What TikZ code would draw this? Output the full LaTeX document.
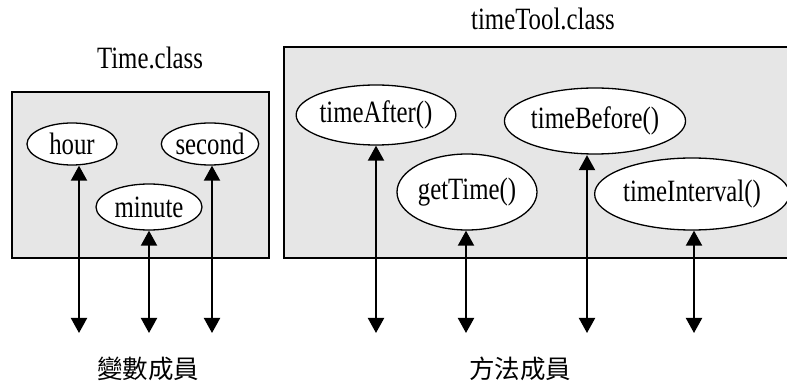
\documentclass[tikz,border=0pt]{standalone}
\usepackage{fontspec}
\setmainfont[FakeStretch=0.8]{Liberation Serif}
\newfontfamily\cjk{Noto Sans CJK TC}
\usetikzlibrary{shapes.geometric,arrows.meta}
\definecolor{panelgray}{RGB}{230,230,230}
\tikzset{
  panel/.style={fill=panelgray, draw=black, line width=1.6pt},
  member/.style={ellipse, draw=black, fill=white, line width=1.3pt, inner sep=0pt,
    font=\fontsize{31}{36}\selectfont},
  title/.style={anchor=base, inner sep=0pt, font=\fontsize{31}{36}\selectfont},
  caption/.style={inner sep=0pt, font=\cjk\fontsize{25.5}{30}\selectfont},
  link/.style={line width=2pt, {Triangle[length=15pt,width=16pt]}-{Triangle[length=15pt,width=16pt]}}
}
\begin{document}
\begin{tikzpicture}[x=1pt,y=-1pt]
\useasboundingbox (0,0) rectangle (787,387);

% class panels
\draw[panel] (12,92) rectangle (269,258);
\fill[panelgray] (284,47) rectangle (787,258);
\draw[line width=1.6pt] (788,47) -- (284,47) -- (284,258) -- (788,258);

% panel titles
\node[title] (tTime) at (150,69) {Time.class};
\node[title] (tTool) at (543,30) {timeTool.class};

% variable members
\node[member, minimum width=90pt, minimum height=42pt] (hour) at (72,144) {hour};
\node[member, minimum width=90pt, minimum height=42pt] (second) at (210,144) {second};
\node[member, minimum width=106pt, minimum height=46pt] (minute) at (149,207) {minute};

% method members
\node[member, minimum width=150pt, minimum height=60pt] (after) at (376,115) {timeAfter()};
\node[member, minimum width=140pt, minimum height=76pt] (gettime) at (467,192) {getTime()};
\node[member, minimum width=168pt, minimum height=66pt] (before) at (595,121) {timeBefore()};
\node[member, minimum width=180pt, minimum height=72pt] (interval) at (692,194) {timeInterval()};

% free ends of the access arrows
\coordinate (eHour) at (79,333);
\coordinate (eMinute) at (149,333);
\coordinate (eSecond) at (212,333);
\coordinate (eAfter) at (376,333);
\coordinate (eGet) at (466,333);
\coordinate (eBefore) at (587,333);
\coordinate (eInterval) at (694,333);

\draw[link] (eHour |- hour.south) -- (eHour);
\draw[link] (eMinute |- minute.south) -- (eMinute);
\draw[link] (eSecond |- second.south) -- (eSecond);
\draw[link] (eAfter |- after.south) -- (eAfter);
\draw[link] (eGet |- gettime.south) -- (eGet);
\draw[link] ([yshift=-0.5pt]eBefore |- before.south) -- (eBefore);
\draw[link] (eInterval |- interval.south) -- (eInterval);

% captions
\node[caption] (capVar) at (148,369) {變數成員};
\node[caption] (capMeth) at (520,369) {方法成員};
\end{tikzpicture}
\end{document}
